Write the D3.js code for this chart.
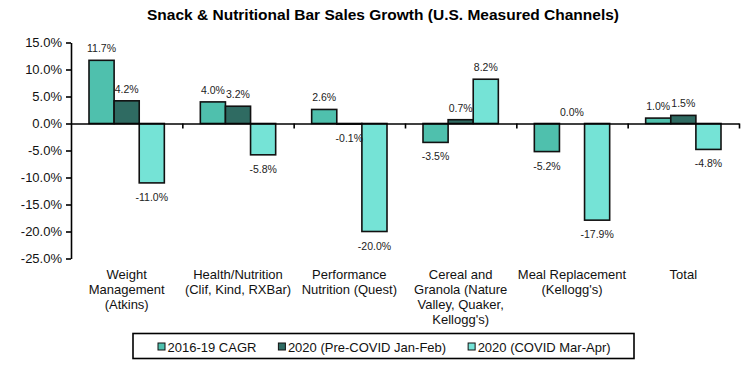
<html>
<head>
<script src="https://d3js.org/d3.v7.min.js"></script>
<style>
  body { margin: 0; background: #fff; }
  text { font-family: "Liberation Sans", Arial, sans-serif; }
</style>
</head>
<body>
<svg id="chart" width="749" height="367"></svg>
<script>
  // data
  var categories = ["Weight Management (Atkins)", "Health/Nutrition (Clif, Kind, RXBar)",
                    "Performance Nutrition (Quest)", "Cereal and Granola (Nature Valley, Quaker, Kellogg's)",
                    "Meal Replacement (Kellogg's)", "Total"];
  var categoryLines = [
    ["Weight", "Management", "(Atkins)"],
    ["Health/Nutrition", "(Clif, Kind, RXBar)"],
    ["Performance", "Nutrition (Quest)"],
    ["Cereal and", "Granola (Nature", "Valley, Quaker,", "Kellogg's)"],
    ["Meal Replacement", "(Kellogg's)"],
    ["Total"]
  ];
  var seriesNames = ["2016-19 CAGR", "2020 (Pre-COVID Jan-Feb)", "2020 (COVID Mar-Apr)"];
  var cagr1619   = [11.7, 4.0, 2.6, -3.5, -5.2, 1.0];
  var preCovid   = [4.2, 3.2, -0.1, 0.7, 0.0, 1.5];
  var covid      = [-11.0, -5.8, -20.0, 8.2, -17.9, -4.8];
  var yTicks     = [15, 10, 5, 0, -5, -10, -15, -20, -25];
  var colors     = ["#4fc0ad", "#2f6b62", "#75e3d6"];

  var seriesValues = [cagr1619, preCovid, covid];

  var svg = d3.select("#chart");
  var margin = {left: 71, right: 739, top: 42.5, bottom: 258.5};

  var y = d3.scaleLinear().domain([-25, 15]).range([margin.bottom, margin.top]);
  var x0 = d3.scaleBand().domain(d3.range(categories.length)).range([margin.left, margin.right]);
  var x1 = d3.scaleBand().domain(d3.range(seriesNames.length))
    .range([18, x0.bandwidth() - 18]);

  // title
  svg.append("text")
    .attr("x", 383).attr("y", 19.5)
    .attr("text-anchor", "middle")
    .style("font-size", "15.5px").style("font-weight", "bold")
    .text("Snack & Nutritional Bar Sales Growth (U.S. Measured Channels)");

  // bars
  var groups = svg.selectAll("g.grp")
    .data(categories)
    .enter().append("g")
      .attr("class", "grp")
      .attr("transform", function(d, i) { return "translate(" + x0(i) + ",0)"; });

  groups.selectAll("rect")
    .data(function(d, i) { return seriesValues.map(function(s, k) { return {k: k, v: s[i]}; }); })
    .enter().append("rect")
      .attr("x", function(d) { return x1(d.k); })
      .attr("width", x1.bandwidth())
      .attr("y", function(d) { return y(Math.max(0, d.v)); })
      .attr("height", function(d) { return Math.abs(y(d.v) - y(0)); })
      .attr("fill", function(d) { return colors[d.k]; })
      .attr("stroke", "#111")
      .attr("stroke-width", 1.6);

  groups.selectAll("text.val")
    .data(function(d, i) { return seriesValues.map(function(s, k) { return {k: k, v: s[i]}; }); })
    .enter().append("text")
      .attr("class", "val")
      .attr("x", function(d) { return x1(d.k) + x1.bandwidth() / 2; })
      .attr("y", function(d) { return d.v >= 0 ? y(d.v) - 8 : y(d.v) + 18; })
      .attr("text-anchor", "middle")
      .style("font-size", "10.5px")
      .style("fill", "#222")
      .text(function(d) { return d.v.toFixed(1) + "%"; });

  // y axis
  var yAxis = svg.append("g")
    .attr("transform", "translate(" + margin.left + ",0)")
    .call(d3.axisLeft(y).tickValues(yTicks).tickSize(5).tickSizeOuter(0).tickPadding(4)
      .tickFormat(function(d) { return d.toFixed(1) + "%"; }));
  yAxis.select(".domain").attr("stroke", "#000").attr("stroke-width", 1.6);
  yAxis.selectAll(".tick line").attr("stroke", "#000").attr("stroke-width", 1.6);
  yAxis.selectAll(".tick text").style("font-size", "13px").style("font-family", "Liberation Sans, Arial, sans-serif").attr("fill", "#111");

  // zero line with category separators
  var edge = d3.scaleLinear().domain([0, categories.length]).range([margin.left, margin.right]);
  var xAxis = svg.append("g")
    .attr("transform", "translate(0," + y(0) + ")")
    .call(d3.axisBottom(edge).tickValues(d3.range(1, categories.length + 1))
      .tickSize(5).tickSizeOuter(0).tickFormat(""));
  xAxis.select(".domain").attr("stroke", "#000").attr("stroke-width", 1.6);
  xAxis.selectAll(".tick line").attr("stroke", "#000").attr("stroke-width", 1.6);

  // category labels
  var catLabels = svg.selectAll("text.cat")
    .data(categoryLines)
    .enter().append("text")
      .attr("class", "cat")
      .attr("text-anchor", "middle")
      .style("font-size", "13px")
      .attr("fill", "#111");
  catLabels.each(function(lines, i) {
    var t = d3.select(this);
    lines.forEach(function(line, j) {
      t.append("tspan")
        .attr("x", x0(i) + x0.bandwidth() / 2)
        .attr("y", 278.5 + j * 15)
        .text(line);
    });
  });

  // legend
  var legend = svg.append("g");
  legend.append("rect")
    .attr("x", 133).attr("y", 333.5).attr("width", 501).attr("height", 25)
    .attr("fill", "#fff").attr("stroke", "#000").attr("stroke-width", 1.6);
  var lx = 158;
  seriesNames.forEach(function(name, k) {
    legend.append("rect")
      .attr("x", lx).attr("y", 343).attr("width", 7).attr("height", 7)
      .attr("fill", colors[k]).attr("stroke", "#111").attr("stroke-width", 1);
    var t = legend.append("text")
      .attr("x", lx + 9.5).attr("y", 351.5)
      .style("font-size", "13px").attr("fill", "#111")
      .text(name);
    lx += 9.5 + t.node().getComputedTextLength() + 22;
  });
</script>
</body>
</html>
